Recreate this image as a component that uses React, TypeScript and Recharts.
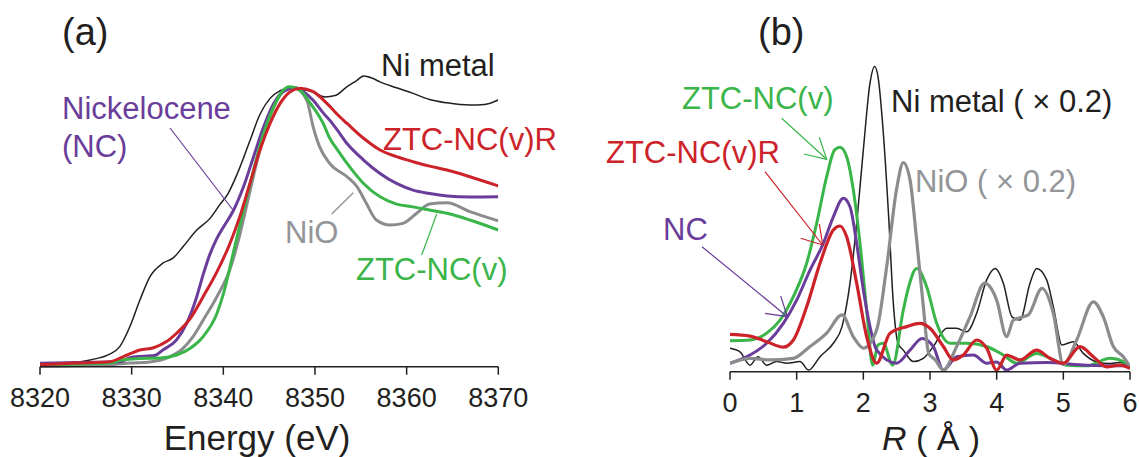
import { LineChart, Line, XAxis, YAxis } from "recharts";

const FONT = "'Liberation Sans', Arial, Helvetica, sans-serif";

const INK = "#231f20";
const PURPLE = "#6a3d9a";
const RED = "#cc2229";
const GREEN = "#3ab54a";
const GRAY = "#8b8c8e";

// (a) Ni K-edge XANES, normalized, energy in eV
const energyTicks = [8320, 8330, 8340, 8350, 8360, 8370];

const niMetalXanes: [number, number][] = [
  [8320, 0.01], [8322, 0.013], [8324.4, 0.018], [8326, 0.028], [8327.6, 0.045],
  [8328.7, 0.072], [8329.8, 0.143], [8330.9, 0.239], [8332, 0.323], [8333.4, 0.371],
  [8334.5, 0.389], [8335.6, 0.43], [8337.1, 0.49], [8338.5, 0.53], [8339.6, 0.58],
  [8340.5, 0.62], [8341.5, 0.69], [8342.9, 0.81], [8344, 0.905], [8345.1, 0.962],
  [8346.2, 0.99], [8347.3, 1.0], [8348.5, 0.995], [8349.8, 0.985], [8351.1, 0.967],
  [8352.2, 0.972], [8353.5, 1.004], [8354.5, 1.025], [8355.3, 1.042], [8356.2, 1.035],
  [8357.1, 1.021], [8358.9, 1.0], [8360.7, 0.98], [8362.5, 0.958], [8364.4, 0.946],
  [8366.9, 0.938], [8368.5, 0.94], [8370, 0.956],
];

const nickeloceneXanes: [number, number][] = [
  [8320, 0.012], [8324, 0.015], [8328.7, 0.018], [8329.8, 0.032], [8331, 0.037],
  [8332.5, 0.04], [8333.4, 0.06], [8334.9, 0.096], [8336, 0.155], [8337.1, 0.251],
  [8337.8, 0.33], [8338.5, 0.4], [8339.3, 0.46], [8340, 0.5], [8341.1, 0.56],
  [8342.2, 0.645], [8343.3, 0.753], [8344.4, 0.86], [8345.5, 0.944], [8346.5, 0.986],
  [8347.8, 1.0], [8349, 0.98], [8349.8, 0.955], [8350.9, 0.91], [8351.6, 0.884],
  [8352.4, 0.85], [8353.5, 0.8], [8355.3, 0.741], [8357.1, 0.693], [8358.9, 0.657],
  [8360.7, 0.633], [8362.5, 0.621], [8364.4, 0.612], [8366.9, 0.608], [8370, 0.609],
];

const ztcRXanes: [number, number][] = [
  [8320, 0.007], [8324, 0.013], [8327.6, 0.018], [8329.1, 0.036], [8330.9, 0.06],
  [8332.4, 0.068], [8333.8, 0.09], [8334.9, 0.12], [8336.4, 0.173], [8337.8, 0.251],
  [8339.3, 0.34], [8340.7, 0.44], [8341.8, 0.538], [8342.9, 0.657], [8344, 0.777],
  [8345.1, 0.872], [8346.2, 0.944], [8347.3, 0.986], [8348.4, 0.998], [8349.8, 0.986],
  [8351.3, 0.944], [8352.7, 0.896], [8353.5, 0.872], [8355.3, 0.819], [8357.1, 0.777],
  [8358.9, 0.753], [8360.7, 0.735], [8362.5, 0.719], [8364.4, 0.705], [8366.9, 0.681],
  [8370, 0.648],
];

const ztcXanes: [number, number][] = [
  [8320, 0.007], [8327.6, 0.013], [8329.1, 0.025], [8330.9, 0.029], [8333.1, 0.031],
  [8334.9, 0.042], [8336.4, 0.066], [8337.8, 0.108], [8339.3, 0.191], [8340, 0.26],
  [8341.1, 0.41], [8342.2, 0.562], [8343.3, 0.705], [8344.4, 0.837], [8345.5, 0.932],
  [8346.5, 0.99], [8347.2, 1.004], [8348.4, 0.99], [8349.5, 0.944], [8350.9, 0.872],
  [8351.6, 0.82], [8352.4, 0.78], [8353.5, 0.729], [8355.3, 0.657], [8357.1, 0.609],
  [8358.9, 0.583], [8360.7, 0.573], [8362.5, 0.562], [8364.4, 0.55], [8366.9, 0.526],
  [8370, 0.49],
];

const nioXanes: [number, number][] = [
  [8320, 0.002], [8327.6, 0.007], [8329.8, 0.013], [8332, 0.017], [8334.2, 0.036],
  [8335.6, 0.066], [8336.7, 0.108], [8337.8, 0.167], [8339.3, 0.251], [8340.7, 0.347],
  [8341.7, 0.46], [8342.7, 0.6], [8343.7, 0.74], [8344.7, 0.86], [8345.7, 0.945],
  [8346.7, 0.99], [8347.7, 1.0], [8349.1, 0.956], [8349.8, 0.86], [8350.5, 0.789],
  [8351.6, 0.729], [8353.5, 0.681], [8354.6, 0.645], [8355.6, 0.586], [8356.7, 0.526],
  [8358.2, 0.508], [8359.6, 0.514], [8361.1, 0.55], [8362.5, 0.583], [8364.4, 0.588],
  [8366.9, 0.556], [8370, 0.523],
];

// (b) Fourier transforms, R in angstrom (arb. units)
const rTicks = [0, 1, 2, 3, 4, 5, 6];

const niMetalFt: [number, number][] = [
  [0, 0.72], [0.15, 0.61], [0.3, 0.2], [0.42, 0.46], [0.55, 0.2], [0.7, 0.31],
  [0.85, 0.26], [1.05, 0.31], [1.18, 0.05], [1.35, 0.46], [1.55, 0.87], [1.68, 1.38],
  [1.8, 2.71], [1.9, 4.54], [2.0, 6.79], [2.1, 8.83], [2.17, 9.34], [2.22, 9.03],
  [2.3, 7.3], [2.38, 4.74], [2.45, 2.09], [2.52, 0.87], [2.6, 0.66], [2.75, 0.31],
  [2.9, 0.41], [3.05, 0.77], [3.25, 1.33], [3.4, 1.33], [3.55, 1.22], [3.7, 1.79],
  [3.85, 2.81], [3.98, 3.16], [4.1, 2.71], [4.23, 1.68], [4.35, 1.58], [4.5, 2.71],
  [4.6, 3.16], [4.75, 2.81], [4.85, 1.99], [4.98, 0.82], [5.15, 0.92], [5.3, 0.56],
  [5.5, 0.3], [5.7, 0.25], [5.85, 0.28], [6.0, 0.15],
];

const ztcFt: [number, number][] = [
  [0, 0.95], [0.3, 0.97], [0.55, 1.18], [0.75, 1.58], [0.95, 2.3], [1.15, 3.32],
  [1.3, 4.54], [1.45, 5.97], [1.57, 6.79], [1.65, 6.87], [1.75, 6.58], [1.85, 5.56],
  [1.95, 3.93], [2.05, 1.89], [2.14, 0.2], [2.22, 0.82], [2.3, 0.87], [2.44, 0.2],
  [2.6, 1.89], [2.68, 2.6], [2.8, 3.16], [2.95, 2.6], [3.1, 1.48], [3.3, 0.87],
  [3.55, 0.87], [3.85, 0.77], [4.1, 0.51], [4.3, 0.26], [4.6, 0.56], [4.85, 0.36],
  [5.05, 0.2], [5.35, 0.18], [5.7, 0.41], [5.9, 0.31], [6.0, 0.1],
];

const nickeloceneFt: [number, number][] = [
  [0, 0.26], [0.3, 0.51], [0.55, 0.87], [0.8, 1.48], [1.0, 2.19], [1.2, 3.11],
  [1.4, 3.93], [1.55, 4.74], [1.7, 5.31], [1.8, 5.05], [1.9, 3.93], [2.0, 2.5],
  [2.1, 1.38], [2.2, 0.66], [2.5, 0.26], [2.7, 0.66], [2.88, 1.02], [3.05, 0.77],
  [3.2, 0.05], [3.4, 0.46], [3.65, 0.51], [3.85, 0.26], [4.0, 0.3], [4.15, 0.05],
  [4.35, 0.26], [4.75, 0.28], [5.35, 0.2], [6.0, 0.18],
];

const nioFt: [number, number][] = [
  [0, 0.26], [0.3, 0.41], [0.6, 0.36], [0.95, 0.41], [1.2, 0.77], [1.45, 1.18],
  [1.68, 1.74], [1.85, 1.07], [2.0, 0.72], [2.2, 1.28], [2.35, 3.21], [2.5, 5.6],
  [2.6, 6.4], [2.7, 5.87], [2.8, 4.03], [2.9, 1.99], [2.98, 0.56], [3.08, 0.36],
  [3.2, 0.05], [3.4, 0.77], [3.6, 1.68], [3.82, 2.71], [4.0, 2.19], [4.15, 1.07],
  [4.25, 1.58], [4.4, 1.68], [4.48, 1.75], [4.68, 2.55], [4.85, 1.79], [5.0, 0.22],
  [5.2, 0.97], [5.45, 2.14], [5.6, 1.68], [5.75, 0.77], [5.9, 0.46], [6.0, 0.15],
];

const ztcRFt: [number, number][] = [
  [0, 1.14], [0.3, 1.09], [0.55, 0.92], [0.8, 0.75], [0.95, 0.97], [1.15, 1.99],
  [1.35, 3.32], [1.55, 4.34], [1.65, 4.46], [1.75, 4.13], [1.9, 2.71], [2.05, 1.07],
  [2.2, 0.26], [2.4, 1.18], [2.65, 1.38], [2.85, 1.48], [3.0, 1.33], [3.2, 0.77],
  [3.35, 0.36], [3.5, 0.51], [3.7, 0.97], [3.85, 0.72], [4.0, 0.05], [4.15, 0.51],
  [4.35, 0.36], [4.6, 0.66], [4.8, 0.41], [5.0, 0.26], [5.25, 0.77], [5.45, 0.46],
  [5.65, 0.15], [5.85, 0.2], [6.0, 0.1],
];

const pts = (arr: [number, number][]) => arr.map(([x, y]) => ({ x, y }));

const tickStyle = { fontSize: 27, fill: INK, fontFamily: FONT };

function Xanes() {
  return (
    <LineChart
      width={560}
      height={457}
      margin={{ top: 32, right: 61.7, bottom: 60.3, left: 40 }}
    >
      <XAxis
        type="number"
        dataKey="x"
        domain={[8320, 8370]}
        ticks={energyTicks}
        allowDataOverflow
        height={30}
        tick={tickStyle}
        tickSize={8}
        tickMargin={13}
        stroke={INK}
        strokeWidth={1.5}
      />
      <YAxis
        type="number"
        domain={[0, 1.2]}
        width={0}
        tick={false}
        tickLine={false}
        stroke={INK}
        strokeWidth={1.5}
      />
      <Line data={pts(niMetalXanes)} dataKey="y" type="monotone" stroke={INK} strokeWidth={1.5} dot={false} isAnimationActive={false} />
      <Line data={pts(nioXanes)} dataKey="y" type="monotone" stroke={GRAY} strokeWidth={3} dot={false} isAnimationActive={false} />
      <Line data={pts(nickeloceneXanes)} dataKey="y" type="monotone" stroke={PURPLE} strokeWidth={3} dot={false} isAnimationActive={false} />
      <Line data={pts(ztcXanes)} dataKey="y" type="monotone" stroke={GREEN} strokeWidth={3} dot={false} isAnimationActive={false} />
      <Line data={pts(ztcRXanes)} dataKey="y" type="monotone" stroke={RED} strokeWidth={3} dot={false} isAnimationActive={false} />
    </LineChart>
  );
}

function Exafs() {
  return (
    <LineChart
      width={579}
      height={457}
      margin={{ top: 45, right: 9, bottom: 55.3, left: 170 }}
    >
      <XAxis
        type="number"
        dataKey="x"
        domain={[0, 6]}
        ticks={rTicks}
        allowDataOverflow
        height={30}
        tick={tickStyle}
        tickSize={8}
        tickMargin={13}
        stroke={INK}
        strokeWidth={1.5}
      />
      <YAxis
        type="number"
        domain={[0, 10]}
        width={0}
        tick={false}
        tickLine={false}
        stroke={INK}
        strokeWidth={1.5}
      />
      <Line data={pts(niMetalFt)} dataKey="y" type="monotone" stroke={INK} strokeWidth={1.5} dot={false} isAnimationActive={false} />
      <Line data={pts(ztcFt)} dataKey="y" type="monotone" stroke={GREEN} strokeWidth={3} dot={false} isAnimationActive={false} />
      <Line data={pts(nickeloceneFt)} dataKey="y" type="monotone" stroke={PURPLE} strokeWidth={3} dot={false} isAnimationActive={false} />
      <Line data={pts(nioFt)} dataKey="y" type="monotone" stroke={GRAY} strokeWidth={3.2} dot={false} isAnimationActive={false} />
      <Line data={pts(ztcRFt)} dataKey="y" type="monotone" stroke={RED} strokeWidth={3.2} dot={false} isAnimationActive={false} />
    </LineChart>
  );
}

export default function App() {
  const label = { fontFamily: FONT, fontSize: 31 };
  return (
    <div style={{ position: "absolute", left: 0, top: 0, width: 1139, height: 457, background: "#fff" }}>
      <div style={{ position: "absolute", left: 0, top: 0 }}>
        <Xanes />
      </div>
      <div style={{ position: "absolute", left: 560, top: 0 }}>
        <Exafs />
      </div>
      <svg
        width={1139}
        height={457}
        style={{ position: "absolute", left: 0, top: 0, pointerEvents: "none" }}
      >
        {/* panel (a) */}
        <text x={62} y={45} fontFamily={FONT} fontSize={38} fill={INK}>(a)</text>
        <text x={381} y={76} {...label} fill={INK}>Ni metal</text>
        <text x={62} y={119} {...label} fill={PURPLE}>Nickelocene</text>
        <text x={62} y={157} {...label} fill={PURPLE}>(NC)</text>
        <line x1={170} y1={128} x2={233} y2={210} stroke={PURPLE} strokeWidth={1.2} />
        <text x={383} y={150} {...label} fill={RED}>ZTC-NC(v)R</text>
        <text x={285} y={243} {...label} fill="#939598">NiO</text>
        <line x1={331.7} y1={214} x2={353.3} y2={192.7} stroke={GRAY} strokeWidth={1.2} />
        <text x={356} y={280} {...label} fill={GREEN}>ZTC-NC(v)</text>
        <line x1={421.7} y1={255} x2={436.7} y2={214} stroke={GREEN} strokeWidth={1.2} />
        <text x={257} y={450} textAnchor="middle" fontFamily={FONT} fontSize={35} fill={INK}>
          Energy (eV)
        </text>

        {/* panel (b) */}
        <text x={758} y={45} fontFamily={FONT} fontSize={38} fill={INK}>(b)</text>
        <text x={682} y={109} {...label} fill={GREEN}>ZTC-NC(v)</text>
        <polyline points="781.7,118.3 826.7,159.3" fill="none" stroke={GREEN} strokeWidth={1.2} />
        <polyline points="819.3,137.3 826.7,159.3 804,154" fill="none" stroke={GREEN} strokeWidth={1.2} />
        <text x={606} y={163} {...label} fill={RED}>ZTC-NC(v)R</text>
        <polyline points="765,171.7 822.7,245" fill="none" stroke={RED} strokeWidth={1.2} />
        <polyline points="819.3,224 822.7,245 800.7,238.3" fill="none" stroke={RED} strokeWidth={1.2} />
        <text x={663} y={240} {...label} fill={PURPLE}>NC</text>
        <polyline points="702,246.7 787.4,316.7" fill="none" stroke={PURPLE} strokeWidth={1.2} />
        <polyline points="780.7,296 787.4,316.7 765,313.3" fill="none" stroke={PURPLE} strokeWidth={1.2} />
        <text x={891} y={112} {...label} fill={INK}>Ni metal ( × 0.2)</text>
        <text x={915} y={192} {...label} fill="#939598">NiO ( × 0.2)</text>
        <text x={931} y={450} textAnchor="middle" fontFamily={FONT} fontSize={34} fill={INK}>
          <tspan fontStyle="italic">R</tspan> ( Å )
        </text>
      </svg>
    </div>
  );
}
